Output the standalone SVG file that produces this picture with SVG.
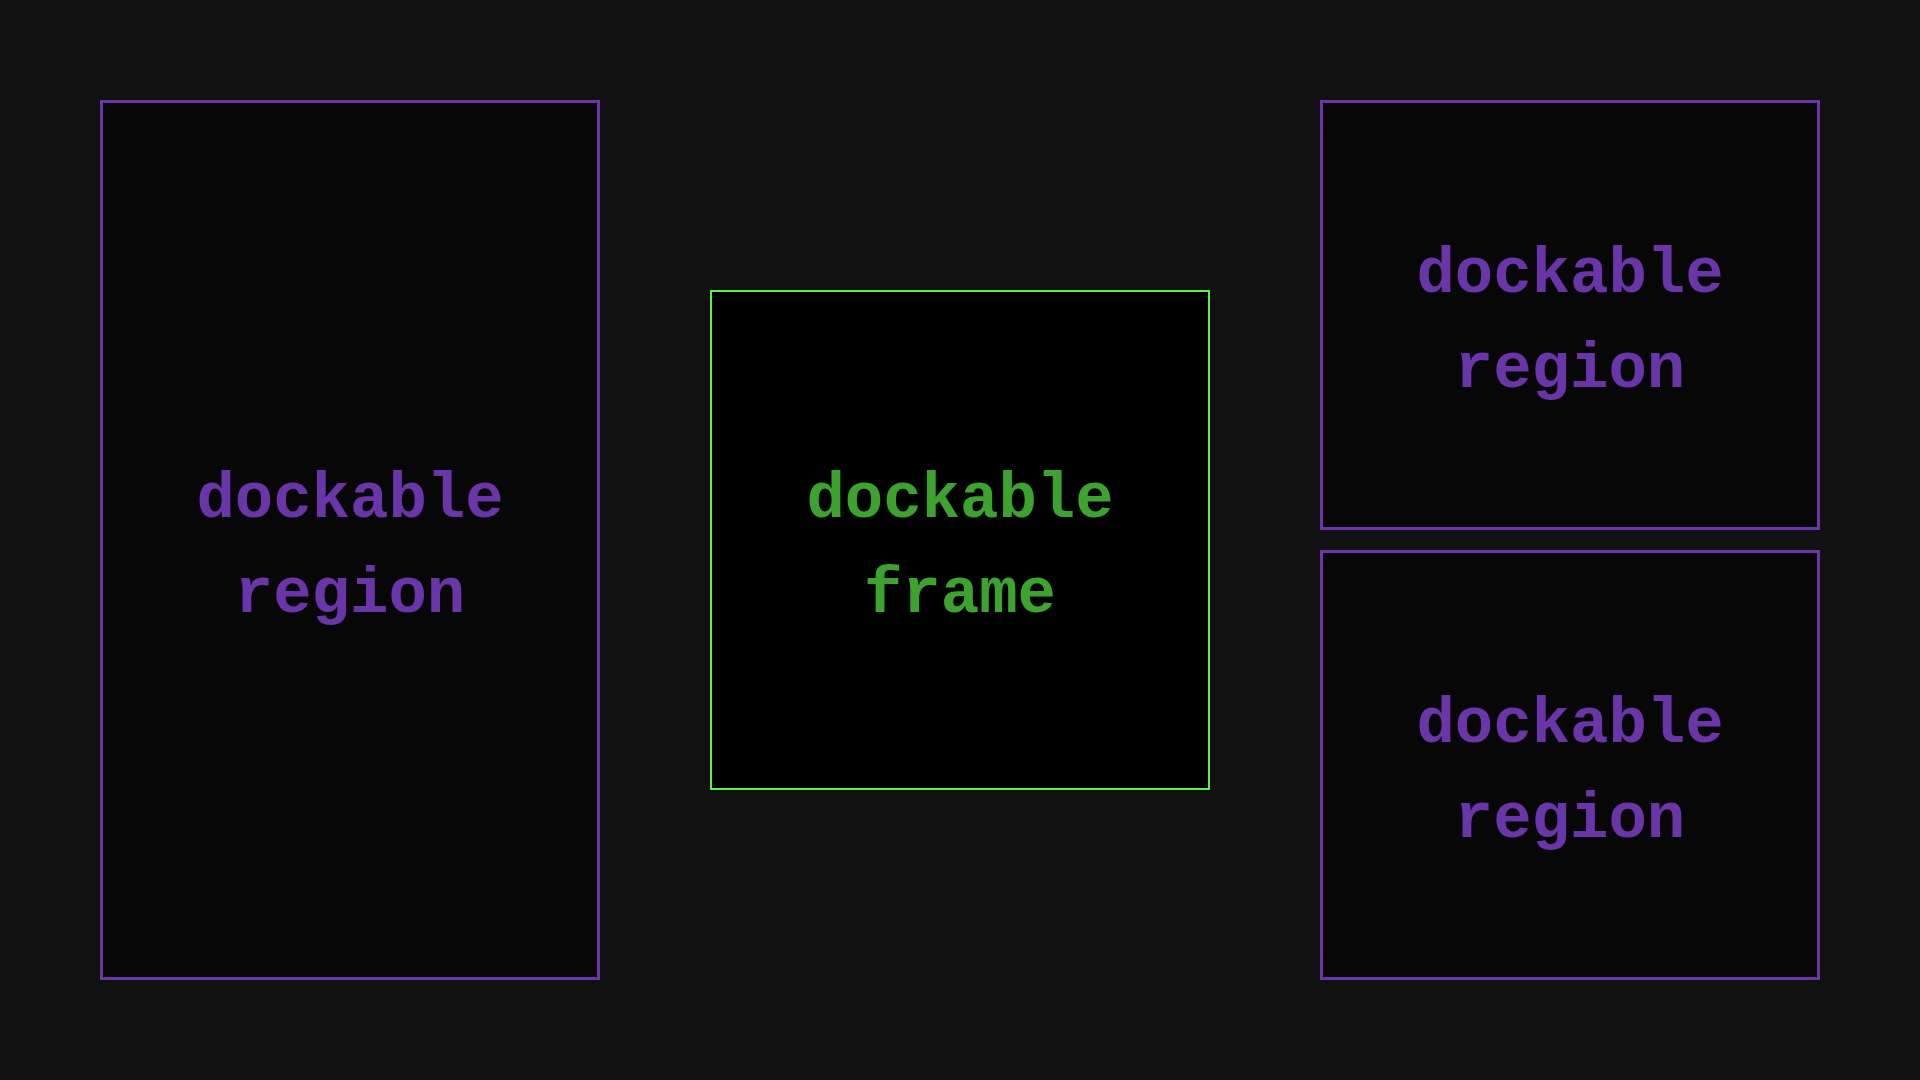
<svg xmlns="http://www.w3.org/2000/svg" width="1920" height="1080" viewBox="0 0 1920 1080">
<style>
.region rect{fill:#070707;stroke:#6b36a9;stroke-width:3}
.region text{fill:#6a35a8}
.frame rect{fill:#000000;stroke:#5ef04b;stroke-width:2}
.frame text{fill:#3ca32f}
text{font-family:"Liberation Mono","DejaVu Sans Mono",monospace;font-weight:bold;font-size:64px;text-anchor:middle}
</style>
<rect x="0" y="0" width="1920" height="1080" fill="#111111"/>
<g id="region-left" class="region">
<rect x="101.5" y="101.5" width="497" height="877"/>
<text x="350" y="517">dockable</text>
<text x="350" y="612">region</text>
</g>
<g id="frame-center" class="frame">
<rect x="711" y="291" width="498" height="498"/>
<text x="960" y="517">dockable</text>
<text x="960" y="612">frame</text>
</g>
<g id="region-right-top" class="region">
<rect x="1321.5" y="101.5" width="497" height="427"/>
<text x="1570" y="292">dockable</text>
<text x="1570" y="387">region</text>
</g>
<g id="region-right-bottom" class="region">
<rect x="1321.5" y="551.5" width="497" height="427"/>
<text x="1570" y="742">dockable</text>
<text x="1570" y="837">region</text>
</g>
<g id="connectors"/>
</svg>
